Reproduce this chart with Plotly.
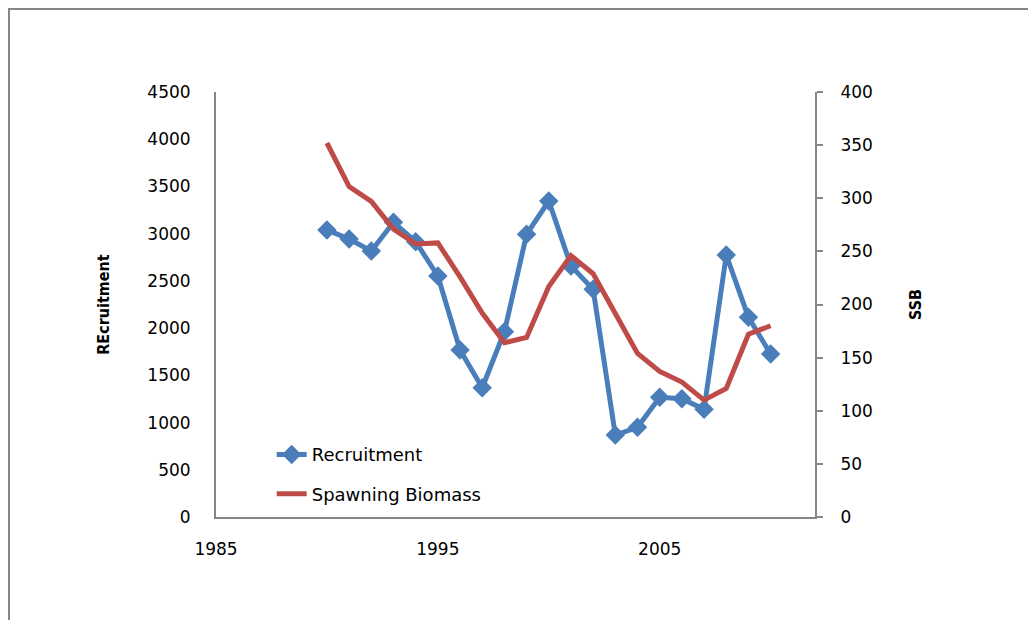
import plotly.graph_objects as go

years = list(range(1990, 2011))
recruitment = [3040, 2944, 2816, 3120, 2915, 2552, 1768, 1369, 1962, 2993, 3346,
               2658, 2411, 868, 950, 1267, 1253, 1140, 2774, 2114, 1726]
ssb = [352, 311, 297, 271, 257, 258, 226, 192, 164, 169, 217,
       246, 229, 192, 154, 137, 127, 110, 121, 172, 180]

x_ticks = [1985, 1995, 2005]
y1_ticks = list(range(0, 4501, 500))
y2_ticks = list(range(0, 401, 50))

BLUE = "#4A7EBB"
RED = "#BE4B48"
AXIS = "#868686"
TICKFONT = dict(family="DejaVu Sans, Verdana, sans-serif", size=17, color="#000000")
TITLEFONT = dict(family="Liberation Sans Narrow, DejaVu Sans Condensed, DejaVu Sans",
                 size=16, color="#000000", weight="bold")

# page body has an 8px margin; figure is placed at (8, 8)
L, T, PW, PH = 208, 84, 599, 425
W, H = 1028, 612

fig = go.Figure()
fig.add_trace(go.Scatter(
    x=years, y=recruitment, name="Recruitment", mode="lines+markers",
    line=dict(color=BLUE, width=5), marker=dict(symbol="diamond", size=15, color=BLUE),
    legendgroup="a", yaxis="y"))
fig.add_trace(go.Scatter(
    x=years, y=ssb, name="Spawning Biomass", mode="lines",
    line=dict(color=RED, width=5), legendgroup="b", yaxis="y2"))

fig.update_layout(
    width=W, height=H,
    margin=dict(l=L, r=W - L - PW, t=T, b=H - T - PH),
    paper_bgcolor="white", plot_bgcolor="white",
    showlegend=True,
    legend=dict(x=0.093, y=0.19, xanchor="left", yanchor="top",
                font=dict(family="DejaVu Sans, Verdana, sans-serif", size=18, color="#000000"),
                bgcolor="rgba(255,255,255,0)", traceorder="grouped", tracegroupgap=13),
    xaxis=dict(range=[1985, 2012], tickvals=x_ticks, showgrid=False, zeroline=False,
               showline=True, linecolor=AXIS, linewidth=2, ticks="",
               tickfont=TICKFONT, ticklabelstandoff=16),
    yaxis=dict(range=[0, 4500], tickvals=y1_ticks, showgrid=False, zeroline=False,
               showline=True, linecolor=AXIS, linewidth=2, ticks="",
               tickfont=TICKFONT, ticklabelstandoff=20,
               title=dict(text="REcruitment", font=TITLEFONT, standoff=34)),
    yaxis2=dict(range=[0, 400], tickvals=y2_ticks, overlaying="y", side="right",
                showgrid=False, zeroline=False, showline=True, linecolor=AXIS, linewidth=2,
                ticks="outside", ticklen=6, tickcolor=AXIS, tickwidth=1.5,
                tickfont=TICKFONT, ticklabelstandoff=14,
                title=dict(text="SSB", font=TITLEFONT, standoff=38)),
    shapes=[dict(type="rect", xref="paper", yref="paper",
                 x0=(1 - L) / PW, x1=(W + 20 - L) / PW,
                 y0=-(H + 20 - T - PH) / PH, y1=(PH + T - 1) / PH,
                 line=dict(color=AXIS, width=2), fillcolor="rgba(0,0,0,0)", layer="below")],
)

fig.write_html("out.html")
